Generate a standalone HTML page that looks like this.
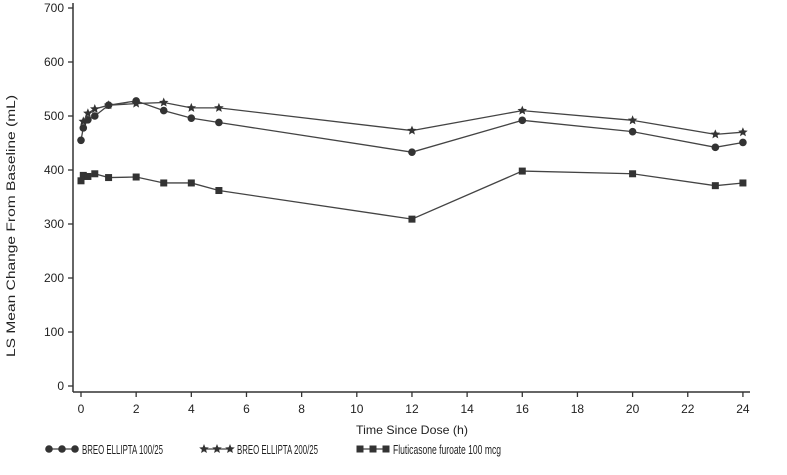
<!DOCTYPE html>
<html><head><meta charset="utf-8"><style>
body{margin:0;background:#fff;width:787px;height:470px;overflow:hidden}
svg text{font-family:"Liberation Sans Narrow","Liberation Sans",sans-serif;fill:#222}
</style></head><body>
<svg id="s" width="787" height="470" xmlns="http://www.w3.org/2000/svg"></svg>
<script>
const s=document.getElementById('s');let h='';
const X=t=>81+t*27.58, Y=v=>386-v*0.54;
h+='<line x1="73" y1="3" x2="73" y2="392" stroke="#333" stroke-width="1.5"/>';
h+='<line x1="73" y1="392" x2="750" y2="392" stroke="#333" stroke-width="1.5"/>';
for(let v=0;v<=700;v+=100){h+=`<line x1="68" y1="${Y(v)}" x2="73" y2="${Y(v)}" stroke="#333" stroke-width="1.3"/><text x="64" y="${Y(v)+4}" font-size="12" text-anchor="end">${v}</text>`;}
for(let t=0;t<=24;t+=2){h+=`<line x1="${X(t)}" y1="392" x2="${X(t)}" y2="397" stroke="#333" stroke-width="1.3"/><text x="${X(t)}" y="413" font-size="12" text-anchor="middle">${t}</text>`;}
h+='<text x="412" y="434" font-size="12" text-anchor="middle" textLength="112" lengthAdjust="spacingAndGlyphs">Time Since Dose (h)</text>';
h+='<text transform="translate(15,226) rotate(-90)" font-size="11.5" text-anchor="middle" textLength="262" lengthAdjust="spacingAndGlyphs">LS Mean Change From Baseline (mL)</text>';
const T=[0,0.083,0.25,0.5,1,2,3,4,5,12,16,20,23,24];
const C=[455,478,493,500,520,528,510,496,488,433,492,471,442,451];
const S=[null,490,505,513,520,523,525,515,515,473,510,492,466,470];
const Q=[380,390,388,393,386,387,376,376,362,309,398,393,371,376];
function star(x,y,r){let p=[];for(let i=0;i<10;i++){const a=-Math.PI/2+i*Math.PI/5,rr=i%2?r*0.45:r;p.push((x+rr*Math.cos(a)).toFixed(1)+','+(y+rr*Math.sin(a)).toFixed(1));}return `<polygon points="${p.join(' ')}" fill="#333"/>`;}
function mk(k,x,y){if(k=='c')return `<circle cx="${x}" cy="${y}" r="3.8" fill="#333"/>`;if(k=='s')return star(x,y,5);return `<rect x="${x-3.5}" y="${y-3.5}" width="7" height="7" fill="#333"/>`;}
function series(d,k){let pts=[];T.forEach((t,i)=>{if(d[i]!=null)pts.push([X(t),Y(d[i])]);});
h+=`<polyline points="${pts.map(p=>p.join(',')).join(' ')}" fill="none" stroke="#444" stroke-width="1.3"/>`;pts.forEach(p=>h+=mk(k,p[0],p[1]));}
series(Q,'q');series(C,'c');series(S,'s');
function leg(x,k,txt,tl){h+=`<line x1="${x}" y1="449" x2="${x+26}" y2="449" stroke="#444" stroke-width="1.3"/>`;[0,13,26].forEach(d=>h+=mk(k,x+d,449));h+=`<text x="${x+33}" y="454" font-size="13" textLength="${tl}" lengthAdjust="spacingAndGlyphs">${txt}</text>`;}
leg(49,'c','BREO ELLIPTA 100/25',81);leg(204,'s','BREO ELLIPTA 200/25',81);leg(360,'q','Fluticasone furoate 100 mcg',108);
s.innerHTML=h;
</script>
</body></html>
